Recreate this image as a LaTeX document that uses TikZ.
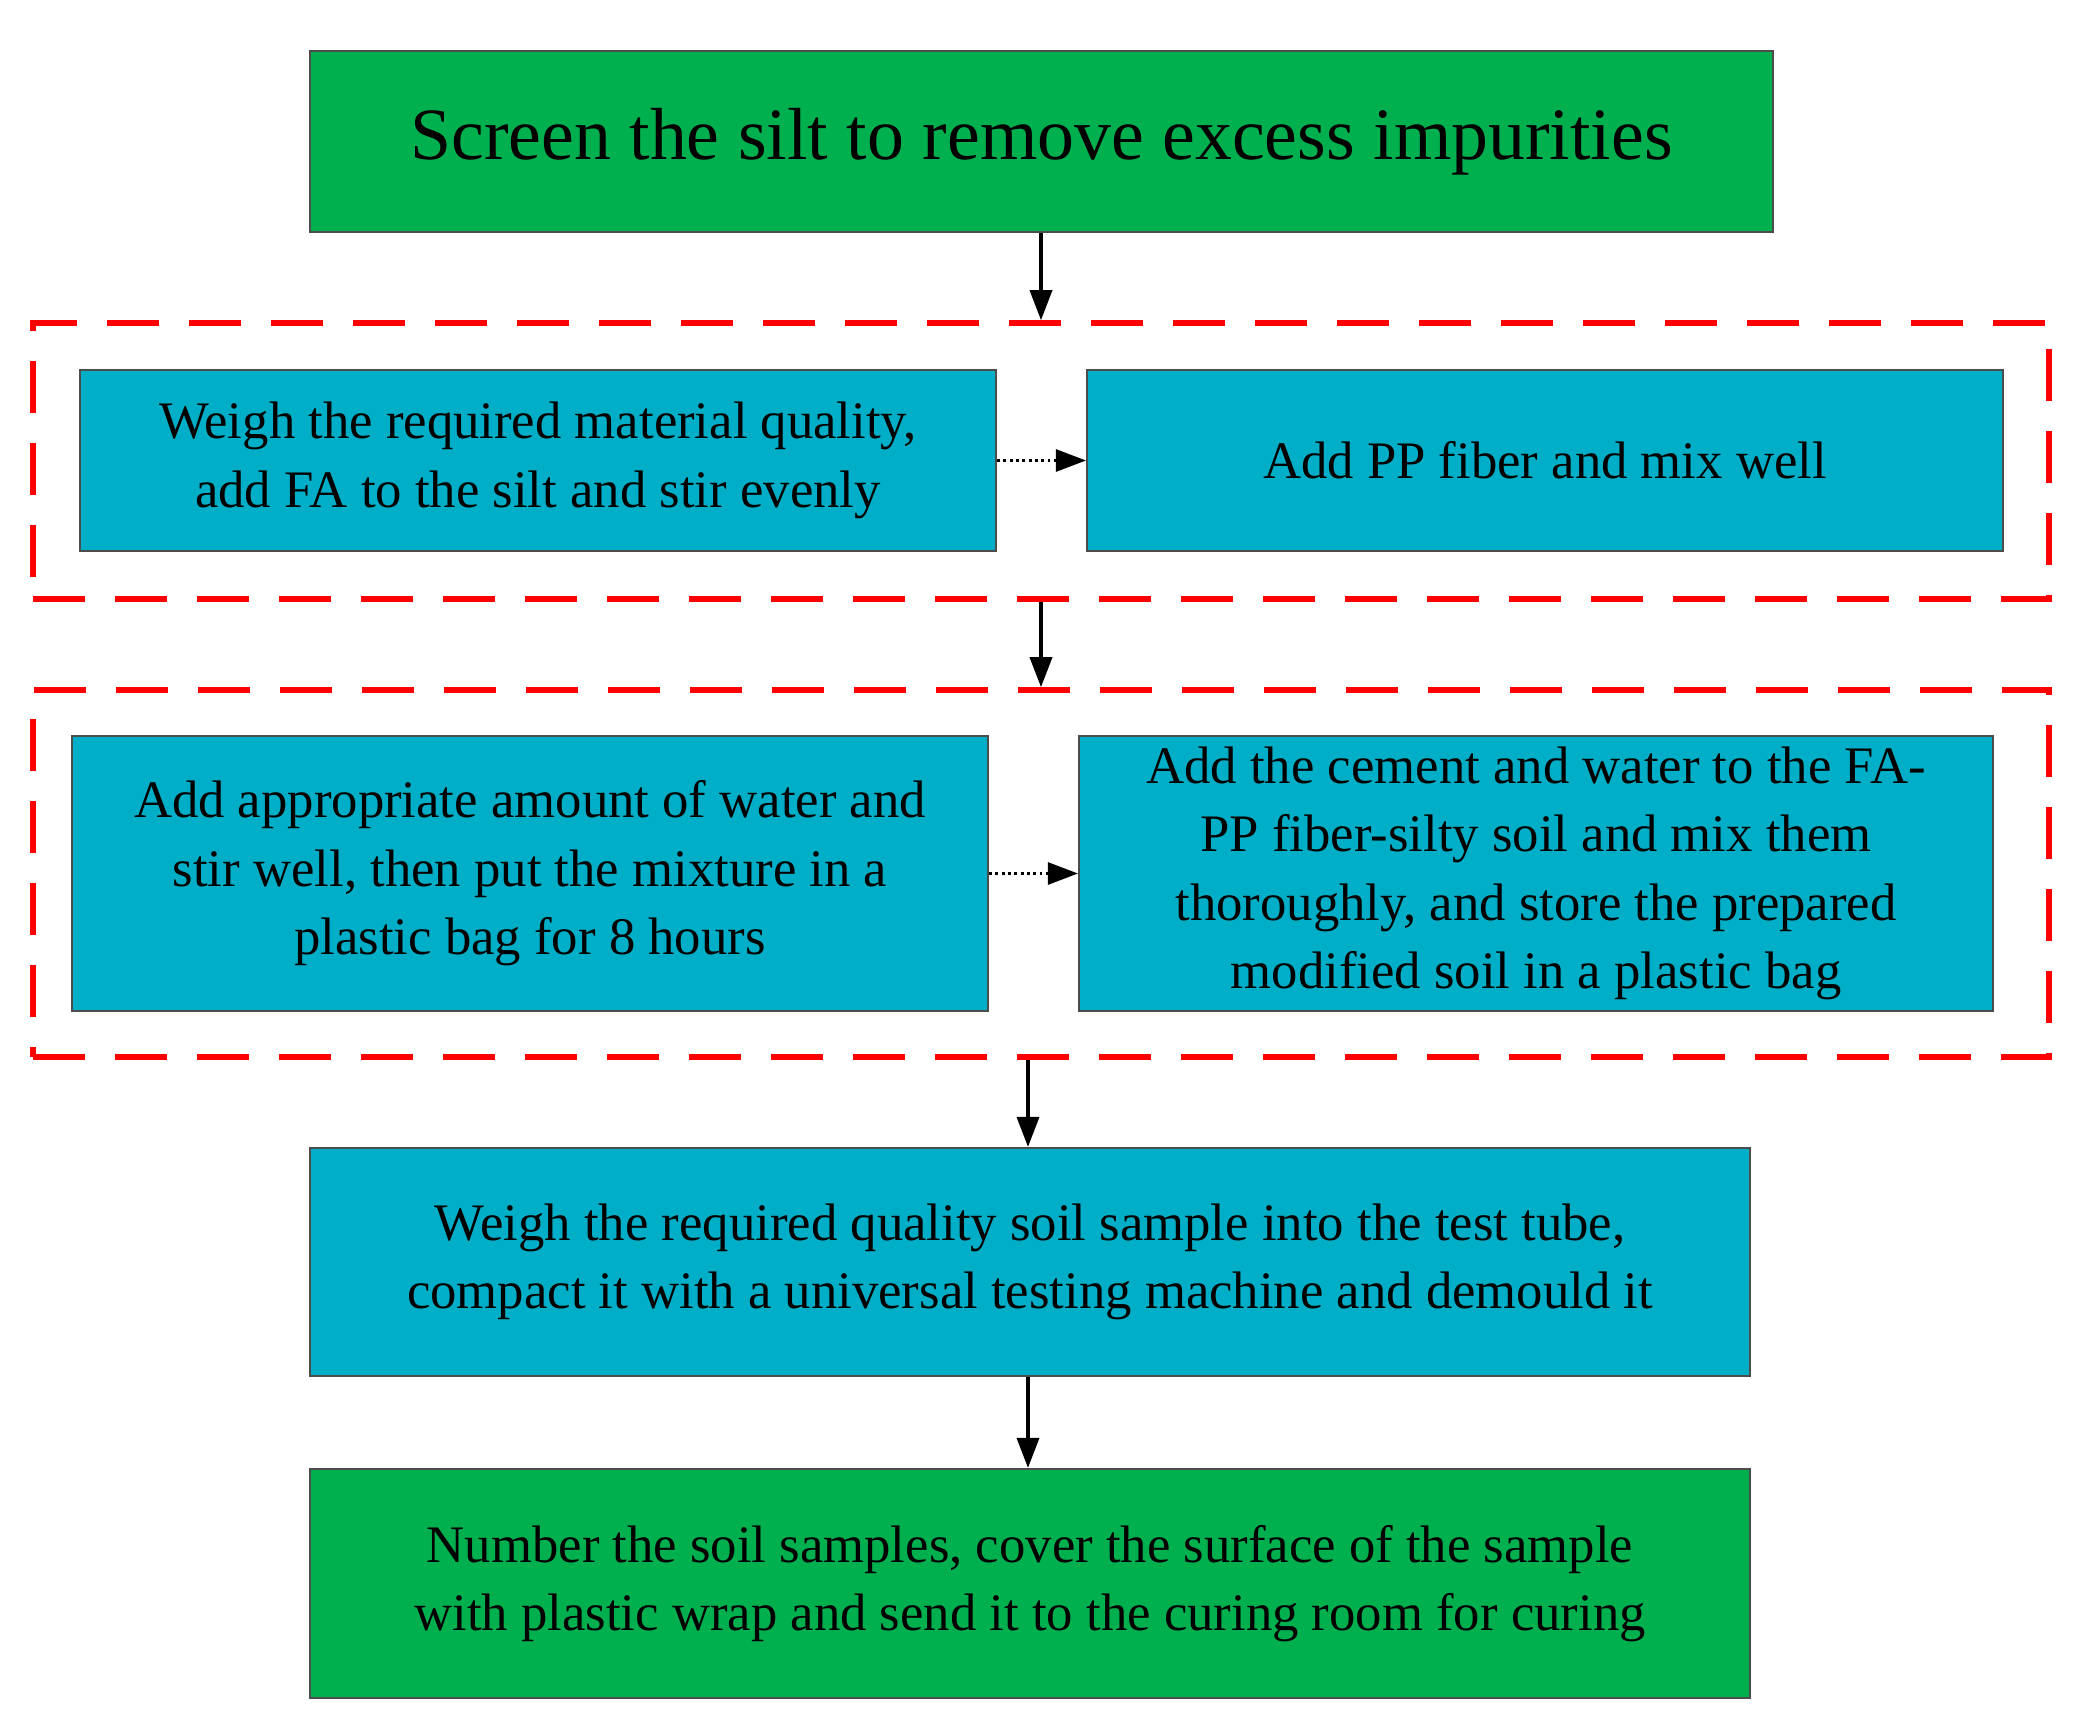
\documentclass[tikz,border=0pt]{standalone}
\usepackage{fontspec}
\setmainfont{Liberation Serif}
\usetikzlibrary{positioning, arrows.meta}
\definecolor{stepgreen}{HTML}{00B04F}
\definecolor{stepblue}{HTML}{00AEC7}
\tikzset{
  box/.style = {draw=black!70, line width=0.6pt, align=center, inner sep=0pt},
  gbox/.style = {box, fill=stepgreen},
  bbox/.style = {box, fill=stepblue},
  group/.style = {draw=red, line width=1.6pt, dash pattern=on 0.52cm off 0.3cm, inner sep=0pt},
  arrow/.style = {line width=1pt, -{Triangle[length=0.3cm,width=0.22cm]}},
  dotarrow/.style = {line width=0.8pt, densely dotted, -{Triangle[length=0.3cm,width=0.22cm]}}
}
\begin{document}
\begin{tikzpicture}[font=\fontsize{15}{19.5}\selectfont]
\useasboundingbox (0,0) rectangle (20.74,-17.11);

% steps
\node[gbox, minimum width=14.63cm, minimum height=1.81cm, font=\fontsize{21}{25}\selectfont] (screen) at (10.415,-1.415) {Screen the silt to remove excess impurities};

\node[group, minimum width=20.16cm, minimum height=2.76cm] (g1) at (10.41,-4.61) {};
\node[bbox, minimum width=9.16cm, minimum height=1.81cm] (weigh) at (5.38,-4.605) {Weigh the required material quality,\\add FA to the silt and stir evenly};
\node[bbox, minimum width=9.16cm, minimum height=1.81cm] (fiber) at (15.45,-4.605) {Add PP fiber and mix well};

\node[group, minimum width=20.16cm, minimum height=3.67cm] (g2) at (10.41,-8.735) {};
\node[bbox, minimum width=9.16cm, minimum height=2.75cm] (water) at (5.30,-8.735) {Add appropriate amount of water and\\stir well, then put the mixture in a\\plastic bag for 8 hours};
\node[bbox, minimum width=9.14cm, minimum height=2.75cm] (cement) at (15.36,-8.735) {Add the cement and water to the FA-\\PP fiber-silty soil and mix them\\thoroughly, and store the prepared\\modified soil in a plastic bag};

\node[bbox, minimum width=14.40cm, minimum height=2.28cm] (tube) at (10.30,-12.62) {Weigh the required quality soil sample into the test tube,\\compact it with a universal testing machine and demould it};
\node[gbox, minimum width=14.40cm, minimum height=2.29cm] (cure) at (10.30,-15.835) {Number the soil samples, cover the surface of the sample\\with plastic wrap and send it to the curing room for curing};

% connectors
\draw[arrow] (screen.south -| 10.41,0) -- (g1.north -| 10.41,0);
\draw[arrow] (g1.south -| 10.41,0) -- (g2.north -| 10.41,0);
\draw[arrow] (g2.south -| 10.28,0) -- (tube.north -| 10.28,0);
\draw[arrow] (tube.south -| 10.28,0) -- (cure.north -| 10.28,0);
\draw[dotarrow] (weigh) -- (fiber);
\draw[dotarrow] (water) -- (cement);
\end{tikzpicture}
\end{document}
